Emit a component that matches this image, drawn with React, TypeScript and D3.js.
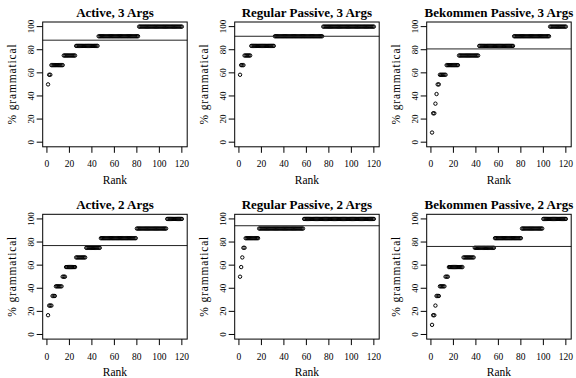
import React from "react";
import * as d3 from "d3";

const titles = [
  "Active, 3 Args",
  "Regular Passive, 3 Args",
  "Bekommen Passive, 3 Args",
  "Active, 2 Args",
  "Regular Passive, 2 Args",
  "Bekommen Passive, 2 Args",
];

const active3Levels = [50, 58.33, 66.67, 75, 83.33, 91.67, 100];
const active3Counts = [1, 2, 11, 11, 20, 36, 39];
const regular3Levels = [58.33, 66.67, 75, 83.33, 91.67, 100];
const regular3Counts = [1, 3, 6, 21, 43, 46];
const bekommen3Levels = [8.33, 25, 33.33, 41.67, 50, 58.33, 66.67, 75, 83.33, 91.67, 100];
const bekommen3Counts = [1, 2, 1, 1, 2, 6, 11, 18, 31, 32, 15];
const active2Levels = [16.67, 25, 33.33, 41.67, 50, 58.33, 66.67, 75, 83.33, 91.67, 100];
const active2Counts = [1, 3, 3, 6, 3, 9, 9, 13, 32, 27, 14];
const regular2Levels = [50, 58.33, 66.67, 75, 83.33, 91.67, 100];
const regular2Counts = [1, 1, 1, 2, 12, 40, 63];
const bekommen2Levels = [8.33, 16.67, 25, 33.33, 41.67, 50, 58.33, 66.67, 75, 83.33, 91.67, 100];
const bekommen2Counts = [1, 2, 1, 3, 5, 3, 13, 10, 18, 24, 19, 21];

const xTicks = [0, 20, 40, 60, 80, 100, 120];
const yTicks = [0, 20, 40, 60, 80, 100];

const panelLevels = [active3Levels, regular3Levels, bekommen3Levels, active2Levels, regular2Levels, bekommen2Levels];
const panelCounts = [active3Counts, regular3Counts, bekommen3Counts, active2Counts, regular2Counts, bekommen2Counts];

const FONT = "Liberation Serif, Times New Roman, serif";

function expand(levels: number[], counts: number[]) {
  const pts: { rank: number; value: number }[] = [];
  let r = 1;
  levels.forEach((lv, i) => {
    for (let k = 0; k < counts[i]; k++) {
      pts.push({ rank: r, value: lv });
      r++;
    }
  });
  return pts;
}

function Panel({ idx }: { idx: number }) {
  const col = idx % 3;
  const row = Math.floor(idx / 3);
  const left = 42.7 + 192 * col;
  const width = 144.5;
  const top = row === 0 ? 22 : 214.3;
  const height = 124.8;
  const pts = expand(panelLevels[idx], panelCounts[idx]);
  const n = pts.length;
  const xpad = (n - 1) * 0.04;
  const x = d3.scaleLinear().domain([1 - xpad, n + xpad]).range([left, left + width]);
  const y = d3.scaleLinear().domain([-4, 104]).range([top + height, top]);
  const mean = d3.mean(pts, (d) => d.value) as number;
  const bottom = top + height;
  const cx = left + width / 2;
  const cy = top + height / 2;
  return (
    <g>
      <text x={cx} y={top - 5} textAnchor="middle" fontFamily={FONT} fontWeight="bold" fontSize={13}>
        {titles[idx]}
      </text>
      {pts.map((p, i) => (
        <circle key={i} cx={x(p.rank)} cy={y(p.value)} r={1.7} fill="none" stroke="#000" strokeWidth={1} />
      ))}
      <line x1={left} x2={left + width} y1={y(mean)} y2={y(mean)} stroke="#222" strokeWidth={1} />
      <rect x={left} y={top} width={width} height={height} fill="none" stroke="#000" strokeWidth={1} />
      {xTicks.map((t) => (
        <g key={"x" + t}>
          <line x1={x(t)} x2={x(t)} y1={bottom} y2={bottom + 6} stroke="#000" strokeWidth={1} />
          <text x={x(t)} y={bottom + 20.5} textAnchor="middle" fontFamily={FONT} fontSize={9.5}>
            {t}
          </text>
        </g>
      ))}
      {yTicks.map((t) => (
        <g key={"y" + t}>
          <line x1={left - 6} x2={left} y1={y(t)} y2={y(t)} stroke="#000" strokeWidth={1} />
          <text
            transform={`translate(${left - 9},${y(t)}) rotate(-90)`}
            textAnchor="middle"
            fontFamily={FONT}
            fontSize={9}
          >
            {t}
          </text>
        </g>
      ))}
      <text x={cx} y={bottom + 37} textAnchor="middle" fontFamily={FONT} fontSize={11.5}>
        Rank
      </text>
      <text
        transform={`translate(${left - 26.5},${cy}) rotate(-90)`}
        textAnchor="middle"
        fontFamily={FONT}
        fontSize={11.5}
        textLength={80}
        lengthAdjust="spacing"
      >
        % grammatical
      </text>
    </g>
  );
}

export default function App() {
  return (
    <svg
      width={576}
      height={378}
      style={{ position: "absolute", left: 0, top: 0, background: "#fff" }}
    >
      <rect x={0} y={0} width={576} height={378} fill="#fff" />
      {titles.map((_, i) => (
        <Panel key={i} idx={i} />
      ))}
    </svg>
  );
}
